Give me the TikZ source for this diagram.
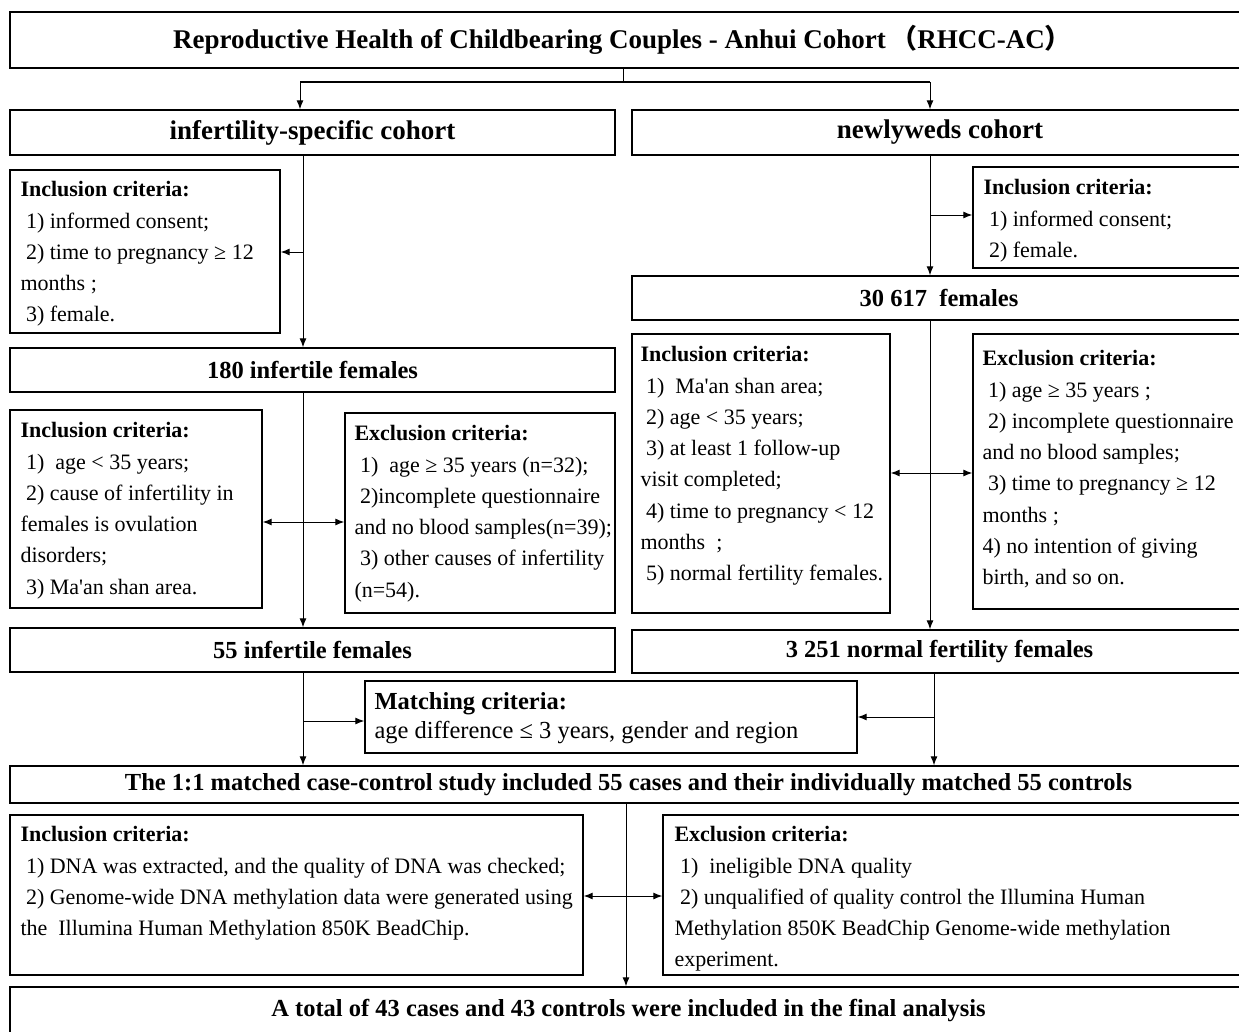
\documentclass[tikz,border=0pt]{standalone}
\usepackage{fontspec}
\setmainfont{Liberation Serif}[Ligatures=TeXOff]
\newfontfamily\cjk{Noto Sans CJK SC}
\usetikzlibrary{arrows.meta}
\tikzset{
 box/.style={draw, line width=1.4pt, inner sep=0pt},
 head/.style={font=\fontsize{24.5}{28}\selectfont\bfseries},
 bighead/.style={font=\fontsize{27}{30}\selectfont\bfseries},
 crit/.style={anchor=north west, align=left, inner sep=0pt, font=\fontsize{22}{31.3}\selectfont},
 conn/.style={line width=1pt},
 arr/.style={conn, -{Latex[length=9pt,width=7pt]}},
 darr/.style={conn, {Latex[length=9pt,width=7pt]}-{Latex[length=9pt,width=7pt]}},
}
\begin{document}
\begin{tikzpicture}[x=1pt,y=-1pt]
\useasboundingbox (0,0) rectangle (1239,1031);
% boxes
\node[box, bighead, minimum width=1231, minimum height=56] (top) at (625.5,40) {\hspace*{-6pt}Reproductive Health of Childbearing Couples - Anhui Cohort\,{\cjk （}RHCC-AC{\cjk ）}};
\node[box, bighead, minimum width=605, minimum height=45] (inf) at (312.5,132.5) {infertility-specific cohort};
\node[box, bighead, minimum width=609, minimum height=45] (new) at (936.5,132.5) {\hspace*{7pt}newlyweds cohort};
\node[box, minimum width=270, minimum height=163] (incA) at (145,251.5) {};
\node[box, head, minimum width=605, minimum height=44] (f180) at (312.5,370) {180 infertile females};
\node[box, minimum width=252, minimum height=198] (incB) at (136,509) {};
\node[box, minimum width=270, minimum height=200] (excB) at (480,513) {};
\node[box, head, minimum width=605, minimum height=44] (f55) at (312.5,650) {55 infertile females};
\node[box, minimum width=268, minimum height=101] (incR) at (1107,217.5) {};
\node[box, head, minimum width=609, minimum height=44] (f30) at (936.5,298) {\hspace*{5pt}30 617\ \ females};
\node[box, minimum width=258, minimum height=279] (incR2) at (761,473.5) {};
\node[box, minimum width=268, minimum height=275] (excR2) at (1107,471.5) {};
\node[box, head, minimum width=609, minimum height=43] (f3251) at (936.5,651.5) {\hspace*{6pt}3 251 normal fertility females};
\node[box, minimum width=492, minimum height=72] (match) at (611,717) {};
\node[box, head, minimum width=1231, minimum height=37] (study) at (625.5,784.5) {\hspace*{6pt}The 1:1 matched case-control study included 55 cases and their individually matched 55 controls};
\node[box, minimum width=573, minimum height=160] (incL3) at (296.5,895) {};
\node[box, minimum width=578, minimum height=160] (excL3) at (952,895) {};
\node[box, head, minimum width=1231, minimum height=48] (final) at (625.5,1011) {\hspace*{6pt}\raisebox{2pt}{A total of 43 cases and 43 controls were included in the final analysis}};
% texts
\node[crit] (tA) at ([shift={(11,12)}]incA.north west) {\textbf{Inclusion criteria:}\\~1) informed consent;\\~2) time to pregnancy ≥ 12\\months ;\\~3) female.};
\node[crit] (tB) at ([shift={(11,13)}]incB.north west) {\textbf{Inclusion criteria:}\\~1)~~age < 35 years;\\~2) cause of infertility in\\females is ovulation\\disorders;\\~3) Ma'an shan area.};
\node[crit] (tC) at ([shift={(10,13)}]excB.north west) {\textbf{Exclusion criteria:}\\~1)~~age ≥ 35 years (n=32);\\~2)incomplete questionnaire\\and no blood samples(n=39);\\~3) other causes of infertility\\(n=54).};
\node[crit] (tD) at ([shift={(11,13)}]incR.north west) {\textbf{Inclusion criteria:}\\~1) informed consent;\\~2) female.};
\node[crit] (tE) at ([shift={(9,13)}]incR2.north west) {\textbf{Inclusion criteria:}\\~1)~~Ma'an shan area;\\~2) age < 35 years;\\~3) at least 1 follow-up\\visit completed;\\~4) time to pregnancy < 12\\months~~;\\~5) normal fertility females.};
\node[crit] (tF) at ([shift={(10,17)}]excR2.north west) {\textbf{Exclusion criteria:}\\~1) age ≥ 35 years ;\\~2) incomplete questionnaire\\and no blood samples;\\~3) time to pregnancy ≥ 12\\months ;\\4) no intention of giving\\birth, and so on.};
\node[crit] (tG) at ([shift={(11,12)}]incL3.north west) {\textbf{Inclusion criteria:}\\~1) DNA was extracted, and the quality of DNA was checked;\\~2) Genome-wide DNA methylation data were generated using\\the~~Illumina Human Methylation 850K BeadChip.};
\node[crit] (tH) at ([shift={(12,12)}]excL3.north west) {\textbf{Exclusion criteria:}\\~1)~~ineligible DNA quality\\~2) unqualified of quality control the Illumina Human\\Methylation 850K BeadChip Genome-wide methylation\\experiment.};
\node[crit, font=\fontsize{24.5}{28.5}\selectfont] (tM) at ([shift={(10,12)}]match.north west) {\textbf{Matching criteria:}\\age difference ≤ 3 years, gender and region};
% connectors
\coordinate (j) at (623,82);
\coordinate (jl) at (300,82);
\coordinate (jr) at (930,82);
\draw[conn] (top.south -| j) -- (j);
\draw[line width=2pt] (jl) -- (jr);
\draw[arr] (jl) -- (jl |- inf.north);
\draw[arr] (jr) -- (jr |- new.north);
\coordinate (sL) at (303,0);
\coordinate (sR) at (930,0);
\coordinate (sR2) at (934,0);
\coordinate (sM) at (626,0);
\draw[arr] (inf.south -| sL) -- (f180.north -| sL);
\coordinate (a1) at (303,252);
\draw[arr] (a1) -- (a1 -| incA.east);
\draw[arr] (f180.south -| sL) -- (f55.north -| sL);
\coordinate (a2) at (303,522);
\draw[darr] (a2 -| incB.east) -- (a2 -| excB.west);
\draw[arr] (f55.south -| sL) -- (study.north -| sL);
\coordinate (a3) at (303,721);
\draw[arr] (a3) -- (a3 -| match.west);
\draw[arr] (new.south -| sR) -- (f30.north -| sR);
\coordinate (a4) at (930,215);
\draw[arr] (a4) -- (a4 -| incR.west);
\draw[arr] (f30.south -| sR) -- (f3251.north -| sR);
\coordinate (a5) at (930,473);
\draw[darr] (a5 -| incR2.east) -- (a5 -| excR2.west);
\draw[arr] (f3251.south -| sR2) -- (study.north -| sR2);
\coordinate (a6) at (934,717);
\draw[arr] (a6) -- (a6 -| match.east);
\draw[arr] (study.south -| sM) -- (final.north -| sM);
\coordinate (a7) at (626,896);
\draw[darr] (a7 -| incL3.east) -- (a7 -| excL3.west);
\end{tikzpicture}
\end{document}
